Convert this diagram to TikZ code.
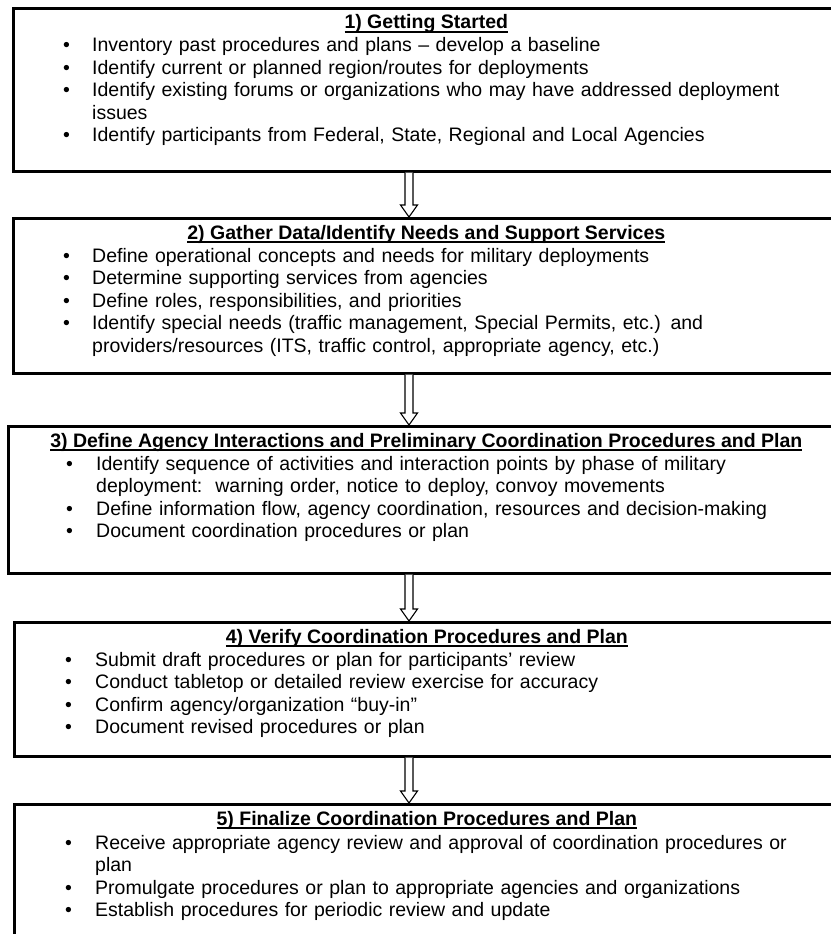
\documentclass[tikz,border=0pt]{standalone}
\usepackage{fontspec}
\setmainfont{Liberation Sans}
\usetikzlibrary{calc}

% underlined bold heading
\newcommand\stagetitle[1]{\setbox0\hbox{\bfseries #1}\rlap{\vrule height -2.2pt depth 4.2pt width \wd0}\box0}
% one bulleted item and a continuation line
\newlength\bulletgap
\newcommand\itm[1]{\makebox[\bulletgap][l]{\textbullet}#1\par}
\newcommand\cont[1]{\hspace*{\bulletgap}#1\par}

\begin{document}
\begin{tikzpicture}[x=1pt,y=-1pt,
  stagebox/.style={draw=black, line width=2.6pt, rectangle, inner sep=0pt, anchor=north west},
  headtext/.style={anchor=base, inner sep=0pt, font=\fontsize{19.5}{22.5}\selectfont},
  listtext/.style={anchor=base west, inner sep=0pt, font=\fontsize{19.5}{22.5}\selectfont,
    text width=780pt, align=left},
  flowarrow/.style={draw=black, line width=1.1pt, fill=white, line join=miter}
]
\useasboundingbox (0,0) rectangle (830,934);

% stage frames (right edges run past the page)
\node[stagebox, minimum width=826pt, minimum height=163pt] (b1) at (12,7) {};
\node[stagebox, minimum width=826pt, minimum height=155pt] (b2) at (12,217) {};
\node[stagebox, minimum width=836pt, minimum height=147pt] (b3) at (7,425) {};
\node[stagebox, minimum width=825pt, minimum height=134pt] (b4) at (13,621) {};
\node[stagebox, minimum width=825pt, minimum height=150pt] (b5) at (13,803) {};

% headings
\node[headtext] (t1) at ($(b1.north)+(0,22)$) {\stagetitle{1) Getting Started}};
\node[headtext] (t2) at ($(b2.north)+(0,22)$) {\stagetitle{2) Gather Data/Identify Needs and Support Services}};
\node[headtext] (t3) at ($(b3.north)+(0,22)$) {\stagetitle{3) Define Agency Interactions and Preliminary Coordination Procedures and Plan}};
\node[headtext] (t4) at ($(b4.north)+(0,22)$) {\stagetitle{4) Verify Coordination Procedures and Plan}};
\node[headtext] (t5) at ($(b5.north)+(0,22)$) {\stagetitle{5) Finalize Coordination Procedures and Plan}};

% bullet lists
\node[listtext] (l1) at (63,52) {\setlength\bulletgap{29pt}%
  \itm{Inventory past procedures and plans -- develop a baseline}
  \itm{Identify current or planned region/routes for deployments}
  \itm{Identify existing forums or organizations who may have addressed deployment}
  \cont{issues}
  \itm{Identify participants from Federal, State, Regional and Local Agencies}};

\node[listtext] (l2) at (63,262) {\setlength\bulletgap{29pt}%
  \itm{Define operational concepts and needs for military deployments}
  \itm{Determine supporting services from agencies}
  \itm{Define roles, responsibilities, and priorities}
  \itm{Identify special needs (traffic management, Special Permits, etc.) and}
  \cont{providers/resources (ITS, traffic control, appropriate agency, etc.)}};

\node[listtext] (l3) at (66,470) {\setlength\bulletgap{30pt}%
  \itm{Identify sequence of activities and interaction points by phase of military}
  \cont{deployment:\ \ warning order, notice to deploy, convoy movements}
  \itm{Define information flow, agency coordination, resources and decision-making}
  \itm{Document coordination procedures or plan}};

\node[listtext] (l4) at (65,666) {\setlength\bulletgap{30pt}%
  \itm{Submit draft procedures or plan for participants’ review}
  \itm{Conduct tabletop or detailed review exercise for accuracy}
  \itm{Confirm agency/organization “buy-in”}
  \itm{Document revised procedures or plan}};

\node[listtext] (l5) at (65,849) {\setlength\bulletgap{30pt}%
  \itm{Receive appropriate agency review and approval of coordination procedures or}
  \cont{plan}
  \itm{Promulgate procedures or plan to appropriate agencies and organizations}
  \itm{Establish procedures for periodic review and update}};

% hollow block arrows between stages
\coordinate (ax) at (409,0);
\foreach \a/\b in {b1/b2, b2/b3, b3/b4, b4/b5}{
  \draw[flowarrow]
    ($(\a.south -| ax)+(-4,0)$) -- ($(\b.north -| ax)+(-4,-12)$) -- ($(\b.north -| ax)+(-8.5,-12)$)
    -- (\b.north -| ax) -- ($(\b.north -| ax)+(8.5,-12)$) -- ($(\b.north -| ax)+(4,-12)$)
    -- ($(\a.south -| ax)+(4,0)$);
}
\end{tikzpicture}
\end{document}
